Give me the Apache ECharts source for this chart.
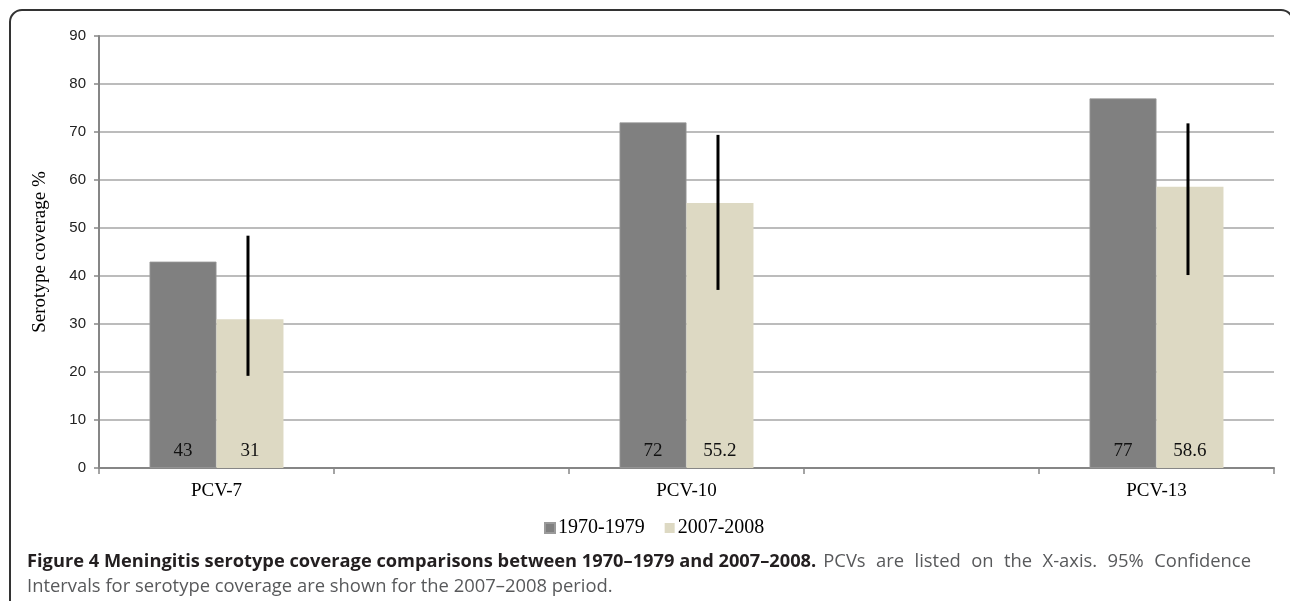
<!DOCTYPE html>
<html>
<head>
<meta charset="utf-8">
<script src="https://cdn.jsdelivr.net/npm/echarts@6/dist/echarts.min.js"></script>
<style>
html,body{margin:0;padding:0;background:#fff;}
#chart{width:1290px;height:601px;}
</style>
</head>
<body>
<div id="chart"></div>
<script>
const categories = ['PCV-7', '', 'PCV-10', '', 'PCV-13'];
const seriesNames = ['1970-1979', '2007-2008'];
const values1970 = [43, '-', 72, '-', 77];
const values2007 = [31, '-', 55.2, '-', 58.6];
const ciLow = [19.2, null, 37.1, null, 40.2];
const ciHigh = [48.4, null, 69.4, null, 71.8];
const yTicks = { min: 0, max: 90, interval: 10 };

const captionBold = 'Figure 4 Meningitis serotype coverage comparisons between 1970\u20131979 and 2007\u20132008.';
const captionLine1Rest = 'PCVs are listed on the X-axis. 95% Confidence';
const captionLine2 = 'Intervals for serotype coverage are shown for the 2007\u20132008 period.';

const barGapCat = 0.43;
const errData = [];
categories.forEach((c, i) => {
  if (ciLow[i] != null) errData.push([i, ciLow[i], ciHigh[i]]);
});

const serif = '"Liberation Serif", "Times New Roman", serif';
const sans = '"Liberation Sans", Arial, sans-serif';
const capFont = '"Open Sans", sans-serif';
const capSize = 18.4;
const capBoldSize = 18.25;

// caption first line: bold part, then justified regular words (layout only)
const ctx = document.createElement('canvas').getContext('2d');
ctx.font = 'bold ' + capBoldSize + 'px "Open Sans"';
const boldW = ctx.measureText(captionBold).width;
const captionGraphics = [{
  type: 'text', x: 27, y: 562, silent: true,
  style: {
    text: captionBold, fontFamily: capFont, fontSize: capBoldSize, fontWeight: 'bold',
    fill: '#231f20', verticalAlign: 'middle'
  }
}];
ctx.font = capSize + 'px "Open Sans"';
const words = captionLine1Rest.split(' ').map(w => ({ w, width: ctx.measureText(w).width }));
const sumW = words.reduce((a, o) => a + o.width, 0);
const restLeft = 27 + boldW + 7, restRight = 1251;
const gap = (restRight - restLeft - sumW) / (words.length - 1);
let cx = restLeft;
words.forEach(o => {
  captionGraphics.push({
    type: 'text', x: cx, y: 562, silent: true,
    style: {
      text: o.w, fontFamily: capFont, fontSize: capSize,
      fill: '#58595b', verticalAlign: 'middle'
    }
  });
  cx += o.width + gap;
});
captionGraphics.push({
  type: 'text', x: 27, y: 587, silent: true,
  style: {
    text: captionLine2, fontFamily: capFont, fontSize: capSize, fill: '#58595b',
    verticalAlign: 'middle'
  }
});

const chart = echarts.init(document.getElementById('chart'));

chart.setOption({
  animation: false,
  backgroundColor: '#fff',
  grid: { left: 99, right: 16, top: 36, bottom: 133, containLabel: false },
  legend: {
    left: 539, top: 513,
    itemWidth: 10, itemHeight: 10, itemGap: 20,
    icon: 'rect',
    textStyle: { fontFamily: serif, fontSize: 20, color: '#000', padding: [0, 0, 0, -2] },
    data: seriesNames
  },
  xAxis: {
    type: 'category',
    data: categories,
    axisLine: { lineStyle: { color: '#868686', width: 2 } },
    axisTick: { show: true, alignWithLabel: false, length: 6, lineStyle: { color: '#868686', width: 1.5 } },
    axisLabel: { fontFamily: serif, fontSize: 19, color: '#000', margin: 14, interval: 0 },
    splitLine: { show: false }
  },
  yAxis: {
    type: 'value',
    min: yTicks.min, max: yTicks.max, interval: yTicks.interval,
    name: 'Serotype coverage %',
    nameLocation: 'middle',
    nameGap: 49,
    nameTextStyle: { fontFamily: serif, fontSize: 19, color: '#000' },
    axisLine: { show: true, lineStyle: { color: '#868686', width: 2 } },
    axisTick: { show: true, length: 5, lineStyle: { color: '#868686', width: 1.5 } },
    axisLabel: { fontFamily: sans, fontSize: 15, color: '#222', margin: 13 },
    splitLine: { lineStyle: { color: '#a6a6a6', width: 1.5 } }
  },
  series: [
    {
      name: seriesNames[0], type: 'bar', data: values1970,
      barGap: '0%', barCategoryGap: (barGapCat * 100) + '%',
      itemStyle: { color: '#808080', borderColor: '#9a9a9a', borderWidth: 0.8 },
      label: { show: true, position: 'insideBottom', distance: 7, fontFamily: serif, fontSize: 19, color: '#111' }
    },
    {
      name: seriesNames[1], type: 'bar', data: values2007,
      itemStyle: { color: '#ddd9c3' },
      label: { show: true, position: 'insideBottom', distance: 7, fontFamily: serif, fontSize: 19, color: '#111' }
    },
    {
      type: 'custom',
      name: 'CI',
      data: errData,
      z: 10,
      silent: true,
      renderItem: function (params, api) {
        const idx = api.value(0);
        const lo = api.coord([idx, api.value(1)]);
        const hi = api.coord([idx, api.value(2)]);
        const catW = api.size([1, 0])[0];
        const barW = catW * (1 - barGapCat) / 2;
        const x = lo[0] + barW / 2 - 2;
        return {
          type: 'line',
          shape: { x1: x, y1: lo[1], x2: x, y2: hi[1] },
          style: { stroke: '#000', lineWidth: 3 }
        };
      },
      encode: { x: 0, y: [1, 2] }
    }
  ],
  graphic: [
    {
      type: 'rect',
      shape: { x: 10, y: 10, width: 1283, height: 700, r: 12 },
      style: { fill: 'none', stroke: '#333', lineWidth: 2 },
      silent: true
    }
  ].concat(captionGraphics)
});
</script>
</body>
</html>
